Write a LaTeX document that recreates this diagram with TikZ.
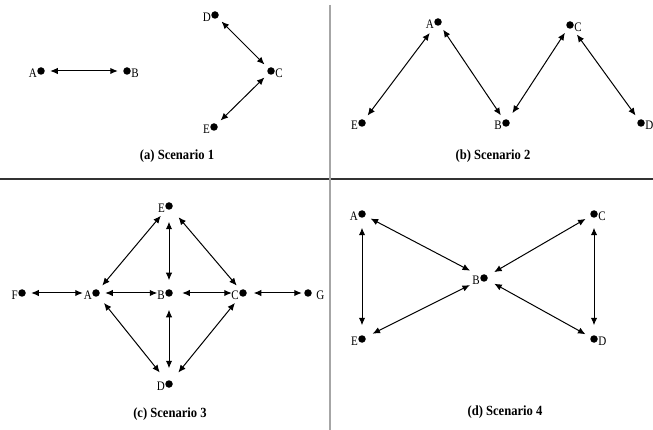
\documentclass[tikz,border=0pt]{standalone}
\usepackage{fontspec}
\setmainfont{Liberation Serif}
\newfontfamily\labfont[FakeStretch=0.85]{Liberation Serif}
\newfontfamily\capfont[FakeStretch=0.9]{Liberation Serif}
\usetikzlibrary{arrows.meta}
\tikzset{
  dot/.style={circle,fill=black,inner sep=0pt,minimum size=7.5pt,outer sep=0pt},
  every label/.style={font=\labfont\fontsize{13}{13}\selectfont,inner sep=0.3pt,yshift=-2.5pt},
  link/.style={{Latex[length=7.5pt,width=6.5pt]}-{Latex[length=7.5pt,width=6.5pt]},line width=1pt,shorten >=5.5pt,shorten <=5.5pt},
  caption/.style={font=\capfont\bfseries\fontsize{14}{14}\selectfont,inner sep=0pt},
  hdiv/.style={draw=black!80,line width=1.4pt},
  vdiv/.style={draw=black!35,line width=1.4pt}
}
\begin{document}
\begin{tikzpicture}[x=1pt,y=-1pt]
\path[use as bounding box,fill=white] (0,0) rectangle (653,430);
% dividers
\coordinate (hl) at (0,179);
\coordinate (hr) at (653,179);
\coordinate (vt) at (330,5);
\coordinate (vb) at (330,430);
\draw[hdiv] (hl) -- (hr);
\draw[vdiv] (vt) -- (vb);

% ---------- Scenario 1 ----------
\node[dot,label={left:A}] (a1A) at (41,71) {};
\node[dot,label={right:B}] (a1B) at (127,71) {};
\node[dot,label={left:D}] (a1D) at (215,15) {};
\node[dot,label={right:C}] (a1C) at (271,71) {};
\node[dot,label={left:E}] (a1E) at (214,127) {};
\draw[link] (a1A) -- (a1B);
\draw[link] (a1D) -- (a1C);
\draw[link] (a1E) -- (a1C);
\node[caption] (capa) at (177,156) {(a) Scenario 1};

% ---------- Scenario 2 ----------
\node[dot,label={left:A}] (b2A) at (438,22) {};
\node[dot,label={right:C}] (b2C) at (570,25) {};
\node[dot,label={left:E}] (b2E) at (362,123) {};
\node[dot,label={left:B}] (b2B) at (506,123) {};
\node[dot,label={right:D}] (b2D) at (641,123) {};
\draw[link,shorten >=10pt] (b2E) -- (b2A);
\draw[link] (b2A) -- (b2B);
\draw[link,shorten <=8pt] (b2B) -- (b2C);
\draw[link,shorten <=8pt] (b2C) -- (b2D);
\node[caption] (capb) at (493,156) {(b) Scenario 2};

% ---------- Scenario 3 ----------
\node[dot,label={left:E}] (c3E) at (169,206) {};
\node[dot,label={left:F}] (c3F) at (22,293) {};
\node[dot,label={left:A}] (c3A) at (96,293) {};
\node[dot,label={left:B}] (c3B) at (169,293) {};
\node[dot,label={left:C}] (c3C) at (243,293) {};
\node[dot,label={[label distance=4pt]right:G}] (c3G) at (308,293) {};
\node[dot,label={left:D}] (c3D) at (169,384) {};
\draw[link,shorten >=9.5pt] (c3F) -- (c3A);
\draw[link,shorten >=8pt] (c3A) -- (c3B);
\draw[link,shorten <=9.5pt,shorten >=7.5pt] (c3B) -- (c3C);
\draw[link,shorten <=7pt,shorten >=2.5pt] (c3C) -- (c3G);
\draw[link,shorten <=12pt,shorten >=9pt] (c3E) -- (c3B);
\draw[link,shorten <=13pt,shorten >=12pt] (c3B) -- (c3D);
\draw[link,shorten <=6pt,shorten >=9pt] (c3A) -- (c3E);
\draw[link,shorten <=11pt,shorten >=6pt] (c3E) -- (c3C);
\draw[link,shorten <=9pt,shorten >=11pt] (c3A) -- (c3D);
\draw[link,shorten <=9pt,shorten >=11pt] (c3C) -- (c3D);
\node[caption] (capc) at (170,414) {(c) Scenario 3};

% ---------- Scenario 4 ----------
\node[dot,label={left:A}] (d4A) at (362,214) {};
\node[dot,label={right:C}] (d4C) at (594,214) {};
\node[dot,label={left:B}] (d4B) at (484,278) {};
\node[dot,label={left:E}] (d4E) at (362,339) {};
\node[dot,label={right:D}] (d4D) at (594,339) {};
\draw[link,shorten <=10pt,shorten >=10pt] (d4A) -- (d4E);
\draw[link,shorten <=10pt,shorten >=10pt] (d4C) -- (d4D);
\draw[link,shorten <=6pt,shorten >=12pt] (d4A) -- (d4B);
\draw[link,shorten <=6pt,shorten >=8pt] (d4C) -- (d4B);
\draw[link,shorten <=8pt,shorten >=12pt] (d4E) -- (d4B);
\draw[link,shorten <=6pt,shorten >=8pt] (d4D) -- (d4B);
\node[caption] (capd) at (505,412) {(d) Scenario 4};
\end{tikzpicture}
\end{document}
